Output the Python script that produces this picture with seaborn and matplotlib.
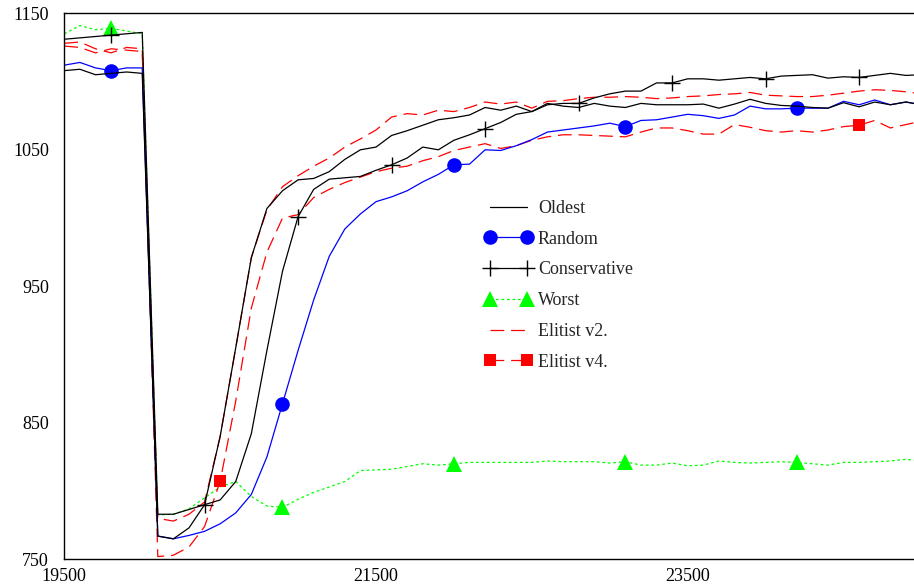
import numpy as np
import pandas as pd
import matplotlib
matplotlib.use("Agg")
import matplotlib.pyplot as plt
from matplotlib.lines import Line2D
import seaborn as sns

# ---------------- data ----------------
x_vals = list(range(19500, 25001, 100))

oldest = [1108, 1109, 1105, 1106, 1107, 1106,
          767, 765, 773, 790, 840, 905, 971, 1007, 1020, 1028, 1029, 1034, 1043, 1050,
          1052, 1060.5, 1064, 1068, 1072, 1073.5, 1075.5, 1081, 1079, 1082,
          1078, 1084, 1082, 1081, 1084, 1082, 1081, 1084, 1083, 1083,
          1083, 1083.5, 1080.5, 1083.5, 1087, 1084, 1082.5, 1082, 1081, 1080.5,
          1084.5, 1081.5, 1085, 1083, 1085, 1083]

random_ = [1112, 1114, 1110, 1108, 1110, 1110,
           767, 765, 767.5, 770.5, 776, 784, 797.5, 825, 864, 903, 940, 972, 992, 1003,
           1012, 1015.5, 1020, 1026.5, 1032, 1039, 1039.5, 1050, 1049.5, 1053,
           1057.5, 1063, 1064.5, 1066, 1067.5, 1069.5, 1067, 1071.5, 1072, 1074,
           1076, 1075, 1073, 1075.5, 1082, 1080, 1080, 1080.5, 1080.5, 1080.5,
           1085.5, 1083, 1086.5, 1083, 1085, 1083]

conservative = [1131, 1132, 1133, 1134, 1135, 1136,
                783, 783, 786.5, 790, 793.5, 807, 842, 903, 961, 1001, 1021, 1028.5, 1029.5, 1030.5,
                1035, 1039, 1044, 1052, 1050, 1057, 1061, 1065.5, 1070, 1076,
                1078, 1083, 1084, 1084, 1088, 1091, 1093, 1093, 1099, 1099,
                1102, 1102, 1101, 1102, 1103, 1102, 1104, 1104.5, 1105, 1102.5,
                1103.5, 1103, 1104.5, 1106, 1104.5, 1105]

worst = [1135, 1141, 1138, 1139, 1137, 1135,
         782.5, 783, 787, 795, 803, 807, 796, 789, 788, 794, 799, 803, 807, 815,
         815.5, 816, 818, 820, 819, 820, 821, 821, 821, 821,
         821, 822, 821.5, 821.5, 821.5, 820.5, 821.5, 819, 819, 820.5,
         818.5, 819, 822, 821, 820.5, 821, 821.5, 821, 820, 819,
         821, 821, 821.5, 822, 823.3, 822]

elitist_v2 = [1128, 1129, 1124, 1121, 1125, 1124,
              780, 778, 783, 792, 840, 905, 971, 1006, 1023, 1031, 1038, 1044, 1052, 1058,
              1064.5, 1074, 1076.5, 1075.5, 1079, 1078, 1081, 1085, 1083.5, 1085,
              1080.5, 1085.5, 1086, 1087.5, 1088.5, 1088.5, 1089, 1088.5, 1087.5, 1088,
              1089, 1089.5, 1090.5, 1091, 1092, 1090, 1089.5, 1089, 1089, 1090,
              1091.5, 1093, 1094, 1093.5, 1092.5, 1091]

elitist_v4 = [1126, 1125, 1121, 1124, 1123, 1122,
              752, 753, 759, 774, 807, 866, 934, 975, 1000, 1002.5, 1015, 1021, 1026, 1030,
              1034, 1036.5, 1038, 1042, 1045, 1049.5, 1052, 1054.5, 1051, 1053,
              1057, 1059.5, 1061, 1061, 1060.5, 1060, 1059.5, 1063, 1066, 1066,
              1064, 1061.5, 1061.5, 1068.5, 1066.5, 1064, 1063, 1064, 1063, 1064.5,
              1067, 1068, 1071.5, 1066, 1068.5, 1071]

series_names = ["Oldest", "Random", "Conservative", "Worst", "Elitist v2.", "Elitist v4."]
x_ticks = [19500, 21500, 23500]
y_ticks = [750, 850, 950, 1050, 1150]

# ---------------- style ----------------
sns.set_style("white")
plt.rcParams["font.family"] = ["Liberation Serif", "DejaVu Serif"]

W, H = 914, 586
fig = plt.figure(figsize=(W / 100, H / 100), dpi=100)
ax_left, ax_right, ax_top, ax_bot = 64.3, 921.5, 13.3, 559.3
ax = fig.add_axes([ax_left / W, (H - ax_bot) / H, (ax_right - ax_left) / W, (ax_bot - ax_top) / H])

lw = 0.9
styles = {
    "Oldest":       dict(color="black", linestyle="-", marker=None, markevery=None),
    "Random":       dict(color="#0000ff", linestyle="-", marker="o", markevery=(3, 11),
                         markersize=10.5, markeredgewidth=0),
    "Conservative": dict(color="black", linestyle="-", marker="+", markevery=(3, 6),
                         markersize=11, markeredgewidth=1.0),
    "Worst":        dict(color="#00ff00", linestyle=(0, (2.2, 2.2)), marker="^", markevery=(3, 11),
                         markersize=11, markeredgewidth=0),
    "Elitist v2.":  dict(color="#ff0000", linestyle=(0, (11, 5.5)), marker=None, markevery=None),
    "Elitist v4.":  dict(color="#ff0000", linestyle=(0, (11, 5.5)), marker="s", markevery=[10, 51],
                         markersize=8.5, markeredgewidth=0),
}
data = {"Oldest": oldest, "Random": random_, "Conservative": conservative,
        "Worst": worst, "Elitist v2.": elitist_v2, "Elitist v4.": elitist_v4}

for name in ["Worst", "Elitist v4.", "Elitist v2.", "Random", "Conservative", "Oldest"]:
    st = dict(styles[name])
    col = st.pop("color")
    kw = dict(color=col, linestyle=st.pop("linestyle"))
    mk = st.pop("marker")
    me = st.pop("markevery")
    extra = {}
    if mk is not None:
        extra = dict(marker=mk, markevery=me, markeredgecolor=col, markerfacecolor=col, **st)
    sns.lineplot(x=x_vals, y=data[name], ax=ax, linewidth=lw, legend=False,
                 sort=False, estimator=None, **kw, **extra)

ax.set_xlim(19500, 25000)
ax.set_ylim(750, 1150)
ax.set_xticks(x_ticks)
ax.set_yticks(y_ticks)
ax.set_xticklabels([str(t) for t in x_ticks])
ax.set_yticklabels([str(t) for t in y_ticks])
ax.tick_params(axis="both", length=0, labelsize=13, labelcolor="black")
ax.tick_params(axis="y", pad=11)
ax.tick_params(axis="x", pad=6)
for s in ["left", "bottom", "top"]:
    ax.spines[s].set_visible(True)
    ax.spines[s].set_color("black")
    ax.spines[s].set_linewidth(1.0)
ax.spines["right"].set_visible(False)
ax.grid(False)
ax.set_xlabel("")
ax.set_ylabel("")

# legend handles
handles = []
for name in series_names:
    st = dict(styles[name])
    h = Line2D([], [], color=st["color"], linestyle=st["linestyle"], linewidth=lw,
               marker=st["marker"] if st["marker"] else "None",
               markersize=st.get("markersize", 6), markeredgewidth=st.get("markeredgewidth", 1),
               markeredgecolor=st["color"], markerfacecolor=st["color"])
    handles.append(h)
leg = fig.legend(handles, series_names, loc="upper left",
                 bbox_to_anchor=(484.5 / W, 1 - 200 / H), frameon=False, numpoints=2,
                 fontsize=13, handlelength=2.65, handletextpad=0.31, labelspacing=0.76,
                 borderpad=0, borderaxespad=0)

fig.savefig("out.png", dpi=100)
